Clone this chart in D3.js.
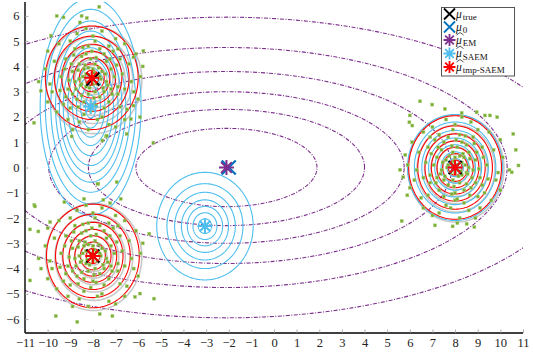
<!DOCTYPE html>
<html><head><meta charset="utf-8">
<script src="https://cdn.jsdelivr.net/npm/d3@7"></script>
<style>
html,body{margin:0;padding:0;background:#fff;}
svg{display:block;}
text{font-family:"Liberation Serif","DejaVu Serif",serif;}
</style></head>
<body>
<svg id="chart" width="533" height="354"></svg>
<script>
// ---------- DATA ----------
const xTickValues = [-11,-10,-9,-8,-7,-6,-5,-4,-3,-2,-1,0,1,2,3,4,5,6,7,8,9,10,11];
const yTickValues = [-6,-5,-4,-3,-2,-1,0,1,2,3,4,5,6];

// true means (black X)
const muTrue = [[-8,3.5],[-8,-3.5],[8,0]];
// initial means (blue X)
const mu0 = [[-2.0,0.0]];
// EM estimate (purple star)
const muEM = [[-2.1,0.0]];
// SAEM estimates (light blue stars)
const muSAEM = [[-8.1,2.41],[-3.05,-2.32],[8.0,0.0]];
// tmp-SAEM estimates (red stars)
const muTmp = [[-8.05,3.55],[-8.0,-3.5],[8.0,0.0]];

// EM contour ellipses (centre muEM): semi-axes in x and y
const emSemiX = [4.0, 6.1, 7.85, 9.95, 12.4, 15.5];
const emSemiY = [1.55, 2.3, 3.0, 3.8, 4.75, 5.95];

// SAEM contours: component 1 (elongated), component 2, component 3
const saem1SemiY = [0.45, 0.85, 1.21, 1.54, 1.94, 2.33, 2.66, 2.99, 3.39, 3.85, 4.3];
const saem1SemiX = [0.23, 0.44, 0.63, 0.80, 1.01, 1.21, 1.38, 1.55, 1.76, 2.0, 2.23];
const saem2Radii = [0.29, 0.53, 0.78, 1.04, 1.34, 1.68, 2.13];
const saem3Radii = [0.36, 0.62, 0.9, 1.17, 1.47, 1.8, 2.1];

// tmp-SAEM contours (red) and true contours (grey)
const tmpRadii = [0.3, 0.55, 0.8, 1.05, 1.33, 1.65, 2.05];
const trueRadii = [0.32, 0.58, 0.84, 1.1, 1.39, 1.72, 2.12];
const trueCentres = [[-7.96,3.46],[-7.96,-3.54],[8.04,-0.04]];

// observed samples (green squares)
const pointsA = [[-8.1,3.6],[-7.8,3.3],[-8.4,3.9],[-7.6,3.8],[-8.3,3.2],[-7.9,4.1],[-8.6,3.5],[-7.4,3.4],[-8.2,2.9],[-7.7,2.8],
[-8.9,3.8],[-7.2,3.9],[-8.5,4.4],[-7.5,4.5],[-9.1,3.1],[-6.9,3.2],[-8.0,2.5],[-8.7,2.7],[-7.3,2.6],[-8.2,4.8],
[-9.4,3.6],[-6.7,3.7],[-8.8,4.7],[-7.1,4.6],[-9.3,2.5],[-6.8,2.4],[-8.4,2.1],[-7.6,2.0],[-9.7,4.2],[-6.4,4.1],
[-8.0,5.2],[-9.0,5.0],[-7.0,5.1],[-9.9,3.3],[-6.2,3.0],[-8.6,1.8],[-7.3,1.7],[-9.6,2.2],[-6.5,2.3],[-9.5,4.9],
[-6.6,4.9],[-8.3,5.5],[-7.6,5.4],[-10.1,3.9],[-5.9,3.6],[-8.9,1.5],[-7.0,1.6],[-10.0,2.6],[-6.0,2.7],[-8.5,3.3],
[-7.9,3.0],[-8.0,3.9],[-7.7,3.6],[-8.3,3.7],[-8.8,3.4],[-7.4,4.2],[-8.6,4.1],[-7.2,3.1],[-8.9,2.9],[-7.5,3.0],
[-8.1,4.3],[-8.4,2.6],[-7.3,4.8],[-9.2,4.3],[-6.8,4.3],[-9.2,2.8],[-6.9,2.9],[-8.7,5.3],[-7.8,1.9],[-9.8,3.0],
[-6.3,3.4],[-8.2,1.5],[-7.9,5.0],[-10.4,3.4],[-5.8,4.0],[-9.1,1.9],[-6.6,1.9],[-10.0,4.6],[-6.1,4.5],[-8.5,6.0],
[-7.72,6.36],[-9.6,6.0],[-9.3,5.94],[-8.27,5.92],[-8.57,5.74],[-9.85,5.22],[-10.3,3.04],[-10.6,1.77],[-5.77,4.62],
[-6.21,4.36],[-6.32,1.92],[-7.42,1.23],[-7.76,-0.64],[-6.95,-0.58],[-5.33,0.98],[-5.92,1.99],[-6.21,2.45],
[-8.94,1.23],[-6.51,1.33],[-7.39,1.26],[-7.58,1.07],[-7.8,-0.65],
[-8.05,3.45],[-7.85,3.65],[-8.25,3.35],[-7.95,3.75],[-8.15,3.15],[-7.65,3.5],[-8.45,3.6],[-8.0,3.3],[-7.75,3.95],[-8.35,4.05],
[-8.55,3.25],[-7.45,3.7],[-8.2,3.95],[-7.55,3.15],[-8.65,3.85],[-7.95,2.75],[-8.5,2.85],[-7.35,3.25],[-8.75,3.1],[-7.85,4.35],
[-8.3,4.5],[-7.25,4.3],[-8.95,4.1],[-7.05,3.6],[-9.05,3.45],[-8.65,2.4],[-7.5,2.35],[-8.1,2.25],[-7.15,2.9],[-8.85,4.45],
[-7.7,4.7],[-8.45,4.75],[-9.25,3.9],[-6.95,4.05],[-9.45,3.05],[-6.6,3.1],[-8.05,4.6],[-7.85,2.45],[-9.0,2.35],[-6.9,4.7]];
const pointsB = [[8.1,0.1],[7.8,-0.2],[8.4,0.4],[7.6,0.3],[8.3,-0.3],[7.9,0.6],[8.6,0.0],[7.4,-0.1],[8.2,-0.6],[7.7,-0.7],
[8.9,0.3],[7.2,0.4],[8.5,0.9],[7.5,1.0],[9.1,-0.4],[6.9,-0.3],[8.0,-1.0],[8.7,-0.8],[7.3,-0.9],[8.2,1.3],
[9.4,0.1],[6.7,0.2],[8.8,1.2],[7.1,1.1],[9.3,-1.0],[6.8,-1.1],[8.4,-1.4],[7.6,-1.5],[9.7,0.7],[6.4,0.6],
[8.0,1.7],[9.0,1.5],[7.0,1.6],[9.9,-0.2],[6.2,-0.5],[8.6,-1.7],[7.3,-1.8],[9.6,-1.3],[6.5,-1.2],[9.5,1.4],
[6.6,1.4],[8.3,2.0],[7.6,1.9],[10.1,0.4],[5.9,0.1],[8.9,-2.0],[7.0,-1.9],[10.0,-0.9],[6.0,-0.8],[8.5,-0.2],
[7.9,-0.5],[8.0,0.4],[7.7,0.1],[8.3,0.2],[8.8,-0.1],[7.4,0.7],[8.6,0.6],[7.2,-0.4],[8.9,-0.6],[7.5,-0.5],
[8.1,0.8],[8.4,-0.9],[7.3,1.3],[9.2,0.8],[6.8,0.8],[9.2,-0.7],[6.9,-0.6],[8.7,1.8],[7.8,-1.6],[9.8,-0.5],
[6.3,-0.1],[8.2,-2.0],[7.9,1.5],[10.4,-0.1],[5.8,0.5],[9.1,-1.6],[6.6,-1.6],[10.0,1.1],[6.1,1.0],[8.0,-1.3],
[6.45,2.62],[6.99,2.49],[5.57,-0.09],[5.71,-0.38],[5.89,-1.1],[5.64,-2.12],[7.11,-2.29],[7.89,-2.33],[8.1,-2.2],
[8.51,-2.23],[8.85,-2.36],[10.57,1.33],[10.68,0.7],[10.8,0.08],[10.5,-0.19],[9.54,2.06],[9.86,1.99],[9.32,2.06],
[5.98,1.79],[6.11,1.66],[6.0,2.06],[7.55,2.32],[8.29,2.16],[8.95,2.19],
[8.05,-0.05],[7.85,0.15],[8.25,-0.15],[7.95,0.25],[8.15,-0.35],[7.65,0.0],[8.45,0.1],[8.0,-0.2],[7.75,0.45],[8.35,0.55],
[8.55,-0.25],[7.45,0.2],[8.2,0.45],[7.55,-0.35],[8.65,0.35],[7.95,-0.75],[8.5,-0.65],[7.35,-0.25],[8.75,-0.4],[7.85,0.85],
[8.3,1.0],[7.25,0.8],[8.95,0.6],[7.05,0.1],[9.05,-0.05],[8.65,-1.1],[7.5,-1.15],[8.1,-1.25],[7.15,-0.6],[8.85,0.95],
[7.7,1.2],[8.45,1.25],[9.25,0.4],[6.95,0.55],[9.45,-0.45],[6.6,-0.4],[8.05,1.1],[7.85,-1.05],[9.0,-1.15],[6.9,1.2]];
const pointsC = [[-8.1,-3.4],[-7.8,-3.7],[-8.4,-3.1],[-7.6,-3.2],[-8.3,-3.8],[-7.9,-2.9],[-8.6,-3.5],[-7.4,-3.6],[-8.2,-4.1],[-7.7,-4.2],
[-8.9,-3.2],[-7.2,-3.1],[-8.5,-2.6],[-7.5,-2.5],[-9.1,-3.9],[-6.9,-3.8],[-8.0,-4.5],[-8.7,-4.3],[-7.3,-4.4],[-8.2,-2.2],
[-9.4,-3.4],[-6.7,-3.3],[-8.8,-2.3],[-7.1,-2.4],[-9.3,-4.5],[-6.8,-4.6],[-8.4,-4.9],[-7.6,-5.0],[-9.7,-2.8],[-6.4,-2.9],
[-8.0,-1.8],[-9.0,-2.0],[-7.0,-1.9],[-9.9,-3.7],[-6.2,-4.0],[-8.6,-5.2],[-7.3,-5.3],[-9.6,-4.8],[-6.5,-4.7],[-9.5,-2.1],
[-6.6,-2.1],[-8.3,-1.5],[-7.6,-1.6],[-10.1,-3.1],[-5.9,-3.4],[-8.9,-5.5],[-7.0,-5.4],[-10.0,-4.4],[-6.0,-4.3],[-8.5,-3.7],
[-7.9,-4.0],[-8.0,-3.1],[-7.7,-3.4],[-8.3,-3.3],[-8.8,-3.6],[-7.4,-2.8],[-8.6,-2.9],[-7.2,-3.9],[-8.9,-4.1],[-7.5,-4.0],
[-8.1,-2.7],[-8.4,-4.4],[-7.3,-2.2],[-9.2,-2.7],[-6.8,-2.7],[-9.2,-4.2],[-6.9,-4.1],[-8.7,-1.7],[-7.8,-5.1],[-9.8,-4.0],
[-6.3,-3.6],[-8.2,-5.5],[-7.9,-2.0],[-10.4,-3.6],[-5.8,-3.0],[-9.1,-5.1],[-6.6,-5.1],[-10.0,-2.4],[-6.1,-2.5],[-7.7,-5.8],
[-9.64,-5.88],[-8.69,-6.11],[-7.14,-5.88],[-5.3,-5.19],[-5.92,-4.99],[-6.14,-5.12],[-10.59,-1.48],[-10.78,-2.45],
[-10.41,-2.53],[-10.78,-4.47],[-9.89,-2.16],[-10.29,-4.0],[-9.26,-1.37],[-10.56,-1.54],[-8.39,-1.24],[-7.54,-1.28],
[-6.77,-1.24],[-7.24,-1.41],[-5.51,-2.62],
[-8.05,-3.55],[-7.85,-3.35],[-8.25,-3.65],[-7.95,-3.25],[-8.15,-3.85],[-7.65,-3.5],[-8.45,-3.4],[-8.0,-3.7],[-7.75,-3.05],[-8.35,-2.95],
[-8.55,-3.75],[-7.45,-3.3],[-8.2,-3.05],[-7.55,-3.85],[-8.65,-3.15],[-7.95,-4.25],[-8.5,-4.15],[-7.35,-3.75],[-8.75,-3.9],[-7.85,-2.65],
[-8.3,-2.5],[-7.25,-2.7],[-8.95,-2.9],[-7.05,-3.4],[-9.05,-3.55],[-8.65,-4.6],[-7.5,-4.65],[-8.1,-4.75],[-7.15,-4.1],[-8.85,-2.55],
[-7.7,-2.3],[-8.45,-2.25],[-9.25,-3.1],[-6.95,-2.95],[-9.45,-3.95],[-6.6,-3.9],[-8.05,-2.4],[-7.85,-4.55],[-9.0,-4.65],[-6.9,-2.3]];

// legend labels
const legendSubs = ["true", "0", "EM", "SAEM", "tmp-SAEM"];

// ---------- CHART ----------
const x = d3.scaleLinear().domain([-11, 11]).range([25, 523]);
const y = d3.scaleLinear().domain([-6.55, 6.55]).range([333, 2]);

const svg = d3.select("#chart");
svg.append("defs").append("clipPath").attr("id","clip")
  .append("rect").attr("x",25).attr("y",2).attr("width",498).attr("height",331);

const plot = svg.append("g").attr("clip-path","url(#clip)");

const angles = d3.range(0, 361, 2).map(a => a*Math.PI/180);
const line = d3.line().x(d => x(d[0])).y(d => y(d[1]));
function ellipse(cx, cy, ax, ay) {
  return line(angles.map(t => [cx + ax*Math.cos(t), cy + ay*Math.sin(t)]));
}

// EM contours (purple dash-dot)
emSemiX.forEach((ax, i) => {
  plot.append("path").attr("d", ellipse(muEM[0][0], muEM[0][1], ax, emSemiY[i]))
    .attr("fill","none").attr("stroke","#7E2F8E").attr("stroke-width",1.1)
    .attr("stroke-dasharray","4,1.5,1,1.5");
});

// true contours (grey)
trueCentres.forEach(c => {
  trueRadii.forEach(r => {
    plot.append("path").attr("d", ellipse(c[0], c[1], r, r))
      .attr("fill","none").attr("stroke","#c8c8c8").attr("stroke-width",1.6);
  });
});

// SAEM contours (light blue)
saem1SemiY.forEach((ay, i) => {
  plot.append("path").attr("d", ellipse(muSAEM[0][0], muSAEM[0][1], saem1SemiX[i], ay))
    .attr("fill","none").attr("stroke","#4DBEEE").attr("stroke-width",1.1);
});
saem2Radii.forEach(r => {
  plot.append("path").attr("d", ellipse(muSAEM[1][0], muSAEM[1][1], r, r))
    .attr("fill","none").attr("stroke","#4DBEEE").attr("stroke-width",1.1);
});
saem3Radii.forEach(r => {
  plot.append("path").attr("d", ellipse(muSAEM[2][0], muSAEM[2][1], r, r))
    .attr("fill","none").attr("stroke","#4DBEEE").attr("stroke-width",1.1);
});

// tmp-SAEM contours (red)
muTmp.forEach(c => {
  tmpRadii.forEach(r => {
    plot.append("path").attr("d", ellipse(c[0], c[1], r, r))
      .attr("fill","none").attr("stroke","#FF0000").attr("stroke-width",1.1);
  });
});

// samples
const allPts = pointsA.concat(pointsB, pointsC);
plot.append("g").selectAll("rect").data(allPts).join("rect")
  .attr("x", d => x(d[0]) - 1.5).attr("y", d => y(d[1]) - 1.5)
  .attr("width",3).attr("height",3)
  .attr("fill","#77AC30").attr("stroke","#a9cf7a").attr("stroke-width",0.5);

// markers
function xPath(s){ return `M${-s},${-s}L${s},${s}M${-s},${s}L${s},${-s}`; }
function starPath(s){ const d = s*0.72; return `M${-s},0L${s},0M0,${-s}L0,${s}M${-d},${-d}L${d},${d}M${-d},${d}L${d},${-d}`; }
function drawMarkers(g, data, pathStr, color, sw) {
  g.selectAll(null).data(data).join("path")
    .attr("transform", d => `translate(${x(d[0])},${y(d[1])})`)
    .attr("d", pathStr).attr("fill","none").attr("stroke",color).attr("stroke-width",sw);
}
const mk = svg.append("g");
drawMarkers(mk, muTrue, xPath(6.5), "#000000", 2);
drawMarkers(mk, mu0, xPath(7), "#0072BD", 2.2);
drawMarkers(mk, muEM, starPath(7.5), "#7E2F8E", 2);
drawMarkers(mk, muSAEM, starPath(7.5), "#4DBEEE", 2);
drawMarkers(mk, muTmp, starPath(7.5), "#FF0000", 2);

// axes
const fmt = d => (d < 0 ? "\u2212" + Math.abs(d) : String(d));
const xAxis = d3.axisBottom(x).tickValues(xTickValues).tickSize(-3.5).tickPadding(5).tickFormat(fmt);
const yAxis = d3.axisLeft(y).tickValues(yTickValues).tickSize(-3.5).tickPadding(5.5).tickFormat(fmt);

const gx = svg.append("g").attr("transform","translate(0,333)").call(xAxis);
const gy = svg.append("g").attr("transform","translate(25,0)").call(yAxis);
[gx, gy].forEach(g => {
  g.select(".domain").attr("stroke","#000").attr("stroke-width",1.4);
  g.selectAll(".tick line").attr("stroke","#999").attr("stroke-width",0.8);
  g.selectAll(".tick text").attr("font-family","'Liberation Serif', serif").attr("font-size",12.5).attr("fill","#222");
});
gx.select(".domain").attr("d","M25,0H523");
gy.select(".domain").attr("d","M0,333V2");

// legend
const lg = svg.append("g");
lg.append("rect").attr("x",441.5).attr("y",7.5).attr("width",73).attr("height",68.5)
  .attr("fill","#fff").attr("stroke","#555").attr("stroke-width",1);
const legendRows = [
  {sym:"x", color:"#000000", hat:false, cy:14},
  {sym:"x", color:"#0072BD", hat:false, cy:27},
  {sym:"s", color:"#7E2F8E", hat:true,  cy:40},
  {sym:"s", color:"#4DBEEE", hat:true,  cy:53.5},
  {sym:"s", color:"#FF0000", hat:true,  cy:67}
];
legendRows.forEach((it, i) => {
  lg.append("path").attr("transform",`translate(449.5,${it.cy})`)
    .attr("d", it.sym === "x" ? xPath(5.5) : starPath(6))
    .attr("fill","none").attr("stroke",it.color).attr("stroke-width",1.8);
  const bx = 456, by = it.cy + 3.5;
  lg.append("text").attr("x",bx).attr("y",by).attr("font-size",11.5)
    .attr("font-style","italic").attr("fill","#111").text("\u03BC");
  if (it.hat) {
    lg.append("path").attr("d",`M${bx+0.5},${by-8.5}L${bx+4},${by-11}L${bx+7.5},${by-8.5}`)
      .attr("fill","none").attr("stroke","#111").attr("stroke-width",0.7);
  }
  lg.append("text").attr("x",bx+6.8).attr("y",by+2.5).attr("font-size",9)
    .attr("fill","#111").text(legendSubs[i]);
});
</script>
</body></html>
